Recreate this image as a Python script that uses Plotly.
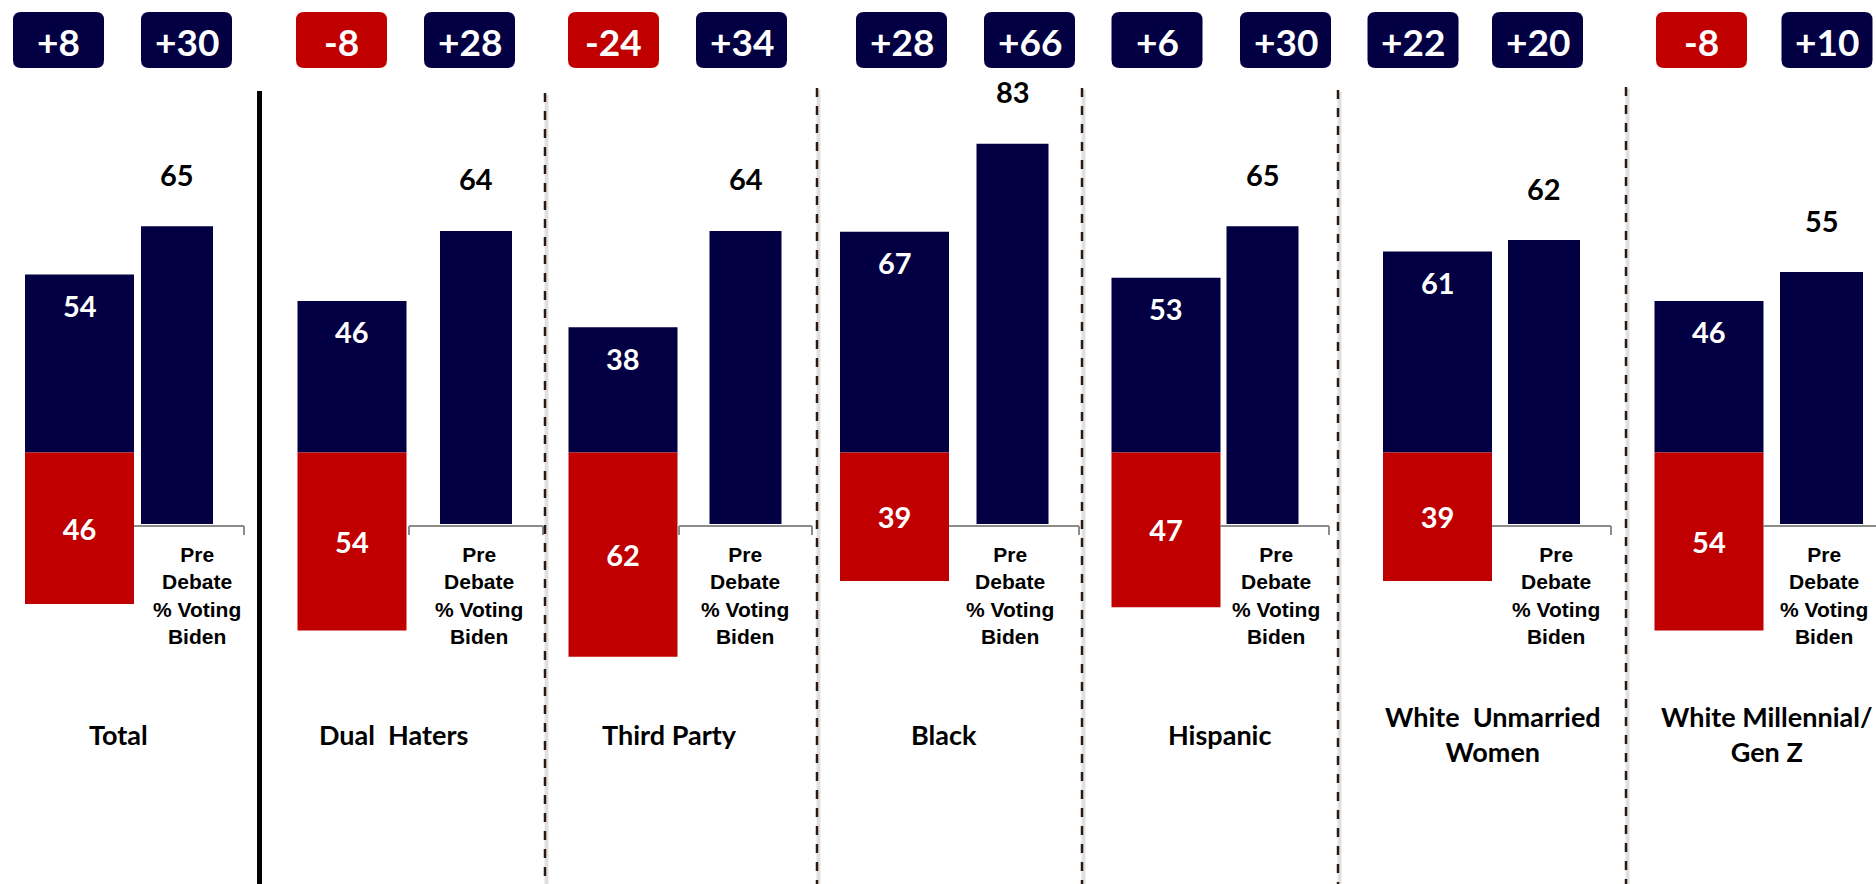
import plotly.graph_objects as go

# ---------------- data ----------------
groups = ["Total", "Dual  Haters", "Third Party", "Black", "Hispanic",
          "White  Unmarried<br>Women", "White Millennial/<br>Gen Z"]
biden_now = [54, 46, 38, 67, 53, 61, 46]
trump_now = [46, 54, 62, 39, 47, 39, 54]
pre_debate = [65, 64, 64, 83, 65, 62, 55]
margin_now = ["+8", "-8", "-24", "+28", "+6", "+22", "-8"]
margin_pre = ["+30", "+28", "+34", "+66", "+30", "+20", "+10"]
pre_label = "Pre<br>Debate<br>% Voting<br>Biden"

# ---------------- layout (pixel positions) ----------------
W, H = 1876, 884
NAVY = "#020042"
RED = "#C00000"
bar1_x = [79.5, 352, 623, 894.5, 1166, 1437.5, 1709]
bar2_x = [177, 476, 745.5, 1012.5, 1262.5, 1544, 1821.5]
bar1_w = 109
bar2_w = [72, 72, 72, 72, 72, 72, 83]
label_x = [118, 393, 669, 944, 1219, 1493, 1767]
pre_text_x = [197, 479, 745, 1010, 1276, 1556, 1824]
box_now_x = [58.5, 341.5, 613.5, 901.5, 1157, 1413, 1701.5]
box_pre_x = [186.5, 469.5, 741.5, 1029.5, 1285.5, 1537.5, 1827]
BOX_W, BOX_TOP, BOX_BOT = 91, 12, 68
# bracket under the pre-debate bars: (x_start, x_end, left_tick, right_tick)
brackets = [(134, 244, False, True), (409, 543, True, True), (679, 812, True, True),
            (949, 1079, False, True), (1220, 1329, False, True), (1492, 1611, False, True),
            (1763, 1876, False, False)]
solid_line = (259.5, 91)
dashed_lines = [(545, 93), (817, 88), (1082, 88), (1338, 90), (1626, 87)]

# y-axis pixel calibration
B1, S1 = 452.5, 3.295   # stacked bars: baseline pixel, px per point
B2, S2 = 524.0, 4.58    # pre-debate bars


def paper_y(p):
    return 1 - p / H


fig = go.Figure()
fig.add_trace(go.Bar(x=bar1_x, y=biden_now, width=bar1_w, marker=dict(color=NAVY, line=dict(width=0)),
                     yaxis="y", hoverinfo="skip"))
fig.add_trace(go.Bar(x=bar1_x, y=[-v for v in trump_now], width=bar1_w,
                     marker=dict(color=RED, line=dict(width=0)), yaxis="y",
                     text=[str(v) for v in trump_now], texttemplate="<b>%{text}</b>",
                     textposition="inside", insidetextanchor="middle",
                     textfont=dict(family="Lato", size=29, color="white"), hoverinfo="skip"))
fig.add_trace(go.Bar(x=bar2_x, y=pre_debate, width=bar2_w, marker=dict(color=NAVY, line=dict(width=0)),
                     yaxis="y2", hoverinfo="skip"))

ann = []
for i in range(len(groups)):
    ann.append(dict(x=bar1_x[i], y=biden_now[i], xref="x", yref="y", yshift=-31,
                    text=f"<b>{biden_now[i]}</b>", showarrow=False, yanchor="middle",
                    font=dict(family="Lato", size=29, color="white")))
    ann.append(dict(x=bar2_x[i], y=pre_debate[i], xref="x", yref="y2", yshift=52,
                    text=f"<b>{pre_debate[i]}</b>", showarrow=False, yanchor="middle",
                    font=dict(family="Lato", size=29, color="black")))
    ann.append(dict(x=pre_text_x[i], y=paper_y(595), xref="x", yref="paper",
                    text=f"<b>{pre_label}</b>", showarrow=False, yanchor="middle",
                    font=dict(family="Liberation Sans, Arial", size=21, color="black")))
    ann.append(dict(x=label_x[i], y=paper_y(734), xref="x", yref="paper",
                    text=f"<b>{groups[i]}</b>", showarrow=False, yanchor="middle",
                    font=dict(family="Lato", size=27, color="black")))
    for bx, txt in ((box_now_x[i], margin_now[i]), (box_pre_x[i], margin_pre[i])):
        ann.append(dict(x=bx, y=paper_y((BOX_TOP + BOX_BOT) / 2 + 1), xref="x", yref="paper",
                        text=f"<b>{txt}</b>", showarrow=False, yanchor="middle",
                        font=dict(family="Lato", size=37, color="white")))

shapes = []
# rounded header boxes
r = 8
for i in range(len(groups)):
    for bx, txt in ((box_now_x[i], margin_now[i]), (box_pre_x[i], margin_pre[i])):
        col = RED if txt.startswith("-") else NAVY
        x0, x1 = bx - BOX_W / 2, bx + BOX_W / 2
        t, b = BOX_TOP, BOX_BOT
        path = (f"M {x0 + r},{paper_y(t)} L {x1 - r},{paper_y(t)} "
                f"Q {x1},{paper_y(t)} {x1},{paper_y(t + r)} L {x1},{paper_y(b - r)} "
                f"Q {x1},{paper_y(b)} {x1 - r},{paper_y(b)} L {x0 + r},{paper_y(b)} "
                f"Q {x0},{paper_y(b)} {x0},{paper_y(b - r)} L {x0},{paper_y(t + r)} "
                f"Q {x0},{paper_y(t)} {x0 + r},{paper_y(t)} Z")
        shapes.append(dict(type="path", path=path, xref="x", yref="paper",
                           fillcolor=col, line=dict(width=0), layer="below"))

# brackets
for xs, xe, lt, rt in brackets:
    yb, yt = paper_y(526), paper_y(535)
    shapes.append(dict(type="line", x0=xs, x1=xe, y0=yb, y1=yb, xref="x", yref="paper",
                       line=dict(color="#8c8c8c", width=2)))
    if lt:
        shapes.append(dict(type="line", x0=xs, x1=xs, y0=yb, y1=yt, xref="x", yref="paper",
                           line=dict(color="#8c8c8c", width=2)))
    if rt:
        shapes.append(dict(type="line", x0=xe, x1=xe, y0=yb, y1=yt, xref="x", yref="paper",
                           line=dict(color="#8c8c8c", width=2)))

# dividers
sx, st = solid_line
shapes.append(dict(type="line", x0=sx, x1=sx, y0=paper_y(st), y1=0, xref="x", yref="paper",
                   line=dict(color="black", width=5)))
for dx, dt in dashed_lines:
    shapes.append(dict(type="line", x0=dx + 1.5, x1=dx + 1.5, y0=paper_y(dt) - 0.002, y1=0,
                       xref="x", yref="paper", line=dict(color="rgba(0,0,0,0.12)", width=4)))
    shapes.append(dict(type="line", x0=dx, x1=dx, y0=paper_y(dt), y1=0, xref="x", yref="paper",
                       line=dict(color="#2a1a12", width=2.5, dash="9px,9px")))

fig.update_layout(
    width=W, height=H, margin=dict(l=0, r=0, t=0, b=0),
    paper_bgcolor="white", plot_bgcolor="white",
    barmode="overlay", showlegend=False,
    xaxis=dict(range=[0, W], visible=False, fixedrange=True),
    yaxis=dict(range=[-(H - B1) / S1, B1 / S1], visible=False, fixedrange=True),
    yaxis2=dict(range=[-(H - B2) / S2, B2 / S2], visible=False, fixedrange=True,
                overlaying="y"),
    annotations=ann, shapes=shapes,
)

fig.write_html("out.html", config={"displayModeBar": False},
               post_script="document.body.style.margin='0';document.body.style.overflow='hidden';")
